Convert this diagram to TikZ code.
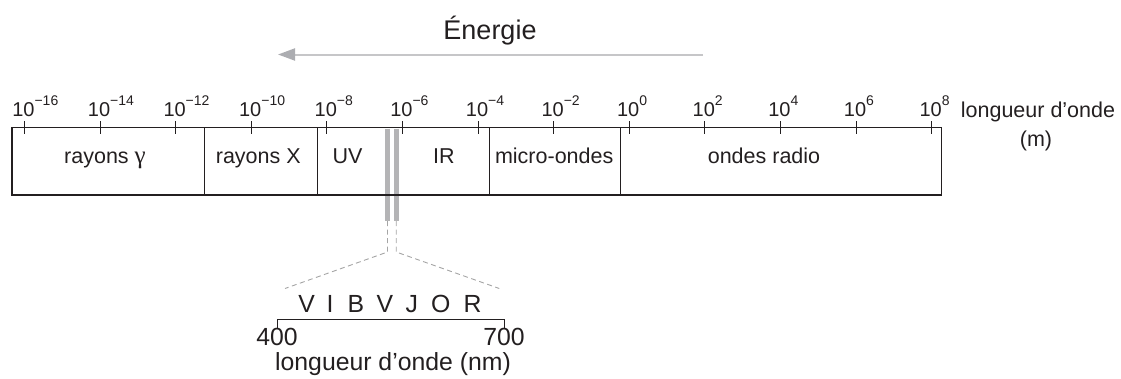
\documentclass[tikz,border=0pt]{standalone}
\usepackage{fontspec}
\setmainfont{Liberation Sans}
\newfontfamily\greekfont{Liberation Serif}
\usetikzlibrary{arrows.meta}
\definecolor{barg}{RGB}{180,180,182}
\definecolor{arrg}{RGB}{198,198,200}
\definecolor{arrhead}{RGB}{172,173,177}
\definecolor{dashg}{RGB}{165,165,165}
\definecolor{ink}{RGB}{35,31,32}
% power of ten: base centred on the tick, exponent hanging to the right
\newcommand{\pten}[1]{10\raisebox{11.5pt}{\fontsize{14}{15}\selectfont #1}}
\begin{document}
\begin{tikzpicture}[x=1pt,y=-1pt,
  lbl/.style={inner sep=0pt,font=\fontsize{21.5}{24}\selectfont,text=ink},
  big/.style={inner sep=0pt,font=\fontsize{24.8}{28}\selectfont,text=ink},
  ticklbl/.style={inner sep=0pt,font=\fontsize{20}{22}\selectfont,text=ink,anchor=base west},
  boxline/.style={draw=ink,line width=1.1pt},
  bar/.style={draw=barg,line width=5pt},
  zoomline/.style={draw=dashg,line width=0.9pt,dash pattern=on 5pt off 3.5pt}]
\useasboundingbox (0,0) rectangle (1121,378);

% energy arrow
\node[inner sep=0pt,text=ink,font=\fontsize{27}{30}\selectfont,anchor=base] (en) at (490,39.5) {Énergie};
\coordinate (ea) at (703,54.5);
\coordinate (eb) at (278,54.5);
\draw[draw=arrg,line width=2pt,-{Triangle[length=17pt,width=12pt,color=arrhead]}] (ea) -- (eb);

% visible-light bars (under the outline)
\coordinate (b1t) at (387.5,128.5);
\coordinate (b1b) at (387.5,221);
\coordinate (b2t) at (396.2,128.5);
\coordinate (b2b) at (396.2,221);
\draw[bar] (b1t) -- (b1b);
\draw[bar] (b2t) -- (b2b);

% spectrum box and dividers
\draw[boxline] (12,127.5) rectangle (941.5,195);
\foreach \x in {204.3,317.3,489.3,620.7}{
  \draw[boxline] (\x,127.5) -- (\x,195);
}

% ticks and their labels
\foreach \e [count=\i from 0] in {−16,−14,−12,−10,−8,−6,−4,−2,0,2,4,6,8}{
  \pgfmathsetmacro{\tx}{24.5+75.6*\i}
  \draw[draw=ink,line width=1pt] (\tx,121) -- (\tx,134);
  \node[ticklbl] (t\i) at (\tx-12.4,116.5) {\pten{\e}};
}
\node[lbl,anchor=base] (lw) at (1038,117) {longueur d’onde};
\node[lbl,anchor=base] (lm) at (1036,146.5) {(m)};

% region names
\node[lbl,anchor=base] (gam) at (105,163) {rayons {\greekfont\fontsize{25}{26}\selectfont γ}};
\node[lbl,anchor=base] (rx) at (258.3,163) {rayons X};
\node[lbl,anchor=base] (uv) at (347.5,163) {UV};
\node[lbl,anchor=base] (ir) at (443.8,163) {IR};
\node[lbl,anchor=base] (mo) at (554.2,163) {micro-ondes};
\node[lbl,anchor=base] (rad) at (764,163) {ondes radio};

% zoom onto the visible range
\coordinate (k1) at (387.5,252);
\coordinate (k2) at (396.2,252);
\coordinate (s1) at (285,288.5);
\coordinate (s2) at (499.3,288.5);
\draw[zoomline] (b1b) -- (k1) -- (s1);
\draw[zoomline] (b2b) -- (k2) -- (s2);

% visible scale
\coordinate (vl) at (277.7,319.3);
\coordinate (vr) at (504,319.3);
\draw[draw=ink,line width=1pt] ([yshift=-9pt]vl) -- (vl) -- (vr) -- ([yshift=-9pt]vr);
\foreach \c/\x [count=\j] in {V/306.7,I/330,B/355.8,V/385,J/411.7,O/440.8,R/472.5}{
  \node[big,anchor=base] (c\j) at (\x,312.5) {\c};
}
\node[big,anchor=base] (n400) at (277,345) {400};
\node[big,anchor=base] (n700) at (504,345) {700};
\node[big,anchor=base] (lnm) at (393,370) {longueur d’onde (nm)};
\end{tikzpicture}
\end{document}
